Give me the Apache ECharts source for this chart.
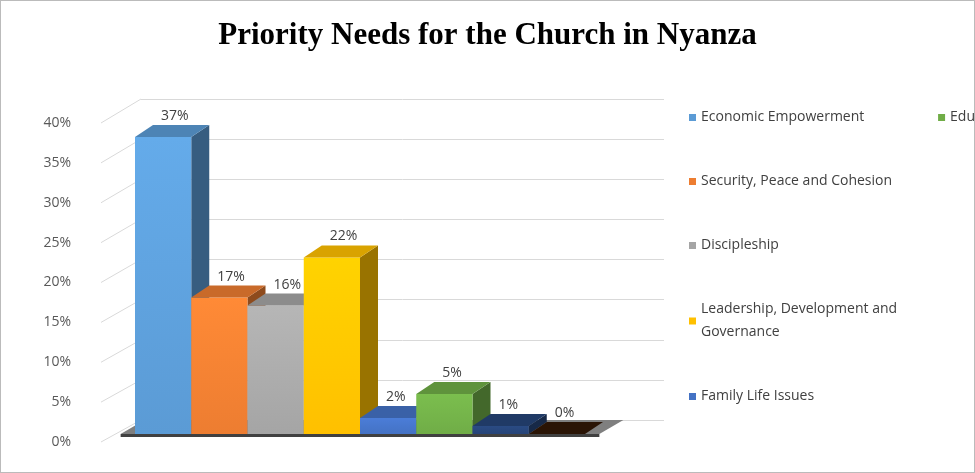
<!DOCTYPE html>
<html><head><meta charset="utf-8">
<script src="https://cdn.jsdelivr.net/npm/echarts@6/dist/echarts.min.js"></script>
<style>html,body{margin:0;background:#fff}#c{width:975px;height:473px;border:1px solid #bbb;box-sizing:border-box}</style>
</head><body><div id="c"></div>
<script>
var categories = ['Economic Empowerment','Security, Peace and Cohesion','Discipleship','Leadership, Development and Governance','Family Life Issues','Education','Other A','Other B'];
var values = [37,17,16,22,2,5,1,0];
var colors = ['#5b9bd5','#ed7d31','#a5a5a5','#ffc000','#4472c4','#70ad47','#264478','#9e480e'];
var legendNames = categories.slice(0,6);
var ticks = [0,5,10,15,20,25,30,35,40];

var DX = 18, DY = -12;
var chart = echarts.init(document.getElementById('c'));

function shade(c, k){
  var n = parseInt(c.slice(1),16), r=n>>16, g=(n>>8)&255, b=n&255;
  return 'rgb('+Math.round(r*k)+','+Math.round(g*k)+','+Math.round(b*k)+')';
}

function renderBar(params, api){
  var i = api.value(0), v = api.value(1);
  var base = api.coord([i,0]), top = api.coord([i,v]);
  var w = api.size([1,0])[0];
  var x0 = base[0]-w/2, x1 = base[0]+w/2, col = colors[i];
  var kids = [];
  kids.push({type:'polygon',shape:{points:[[x1,top[1]],[x1+DX,top[1]+DY],[x1+DX,base[1]+DY],[x1,base[1]]]},style:{fill:shade(col,0.6)}});
  if (v > 0) kids.push({type:'rect',shape:{x:x0,y:top[1],width:w,height:base[1]-top[1]},
    style:{fill:new echarts.graphic.LinearGradient(0,0,0,1,[{offset:0,color:shade(col,1.1)},{offset:1,color:col}])}});
  kids.push({type:'polygon',shape:{points:[[x0,top[1]],[x0+DX,top[1]+DY],[x1+DX,top[1]+DY],[x1,top[1]]]},style:{fill:v>0?shade(col,0.85):'#2a1405'}});
  kids.push({type:'text',style:{text:v+'%',x:base[0]-w/2+DX+8,y:top[1]+DY-2,textVerticalAlign:'bottom',fill:'#404040',font:'14px "Open Sans"'}});
  return {type:'group',children:kids};
}

var series = categories.map(function(name,i){
  return {type:'custom',name:name,xAxisIndex:0,yAxisIndex:0,itemStyle:{color:colors[i]},
    renderItem:renderBar,data:[[i,values[i]]],z:5};
});

chart.setOption({
  animation:false,
  title:{text:'Priority Needs for the Church in Nyanza',left:'center',top:14,
    textStyle:{fontFamily:'Liberation Serif',fontWeight:'bold',fontSize:31,color:'#000'}},
  legend:{orient:'vertical',left:683,top:100,itemWidth:7,itemHeight:7,itemGap:41,icon:'rect',
    data:legendNames,formatter:function(n){return n==='Leadership, Development and Governance'?'Leadership, Development and\nGovernance':n;},
    textStyle:{fontFamily:'Open Sans',fontSize:14,color:'#404040',lineHeight:23}},
  grid:[
    {left:134,right:389,top:112,bottom:38},
    {left:140,right:310,top:98,bottom:52},
    {left:100,right:860,top:122,bottom:30}
  ],
  xAxis:[
    {type:'category',gridIndex:0,data:categories,show:false},
    {type:'value',gridIndex:1,show:false},
    {type:'value',gridIndex:2,show:false}
  ],
  yAxis:[
    {type:'value',gridIndex:0,min:0,max:40,interval:5,show:false},
    {type:'value',gridIndex:1,min:0,max:40,interval:5,axisLine:{show:false},axisTick:{show:false},axisLabel:{show:false},splitLine:{lineStyle:{color:'#d9d9d9'}}},
    {type:'value',gridIndex:2,min:0,max:40,interval:5,axisLine:{show:false},axisTick:{show:false},splitLine:{show:false},
      axisLabel:{formatter:'{value}%',margin:30,fontFamily:'Open Sans',fontSize:14,color:'#595959'}}
  ],
  series:series
});

// left wall slanted gridlines and floor slab
var lines = [];
ticks.forEach(function(t){
  var a = chart.convertToPixel({gridIndex:2},[0,t]);
  var b = chart.convertToPixel({gridIndex:1},[0,t]);
  lines.push({type:'line',shape:{x1:a[0],y1:a[1],x2:b[0],y2:b[1]},style:{stroke:'#d9d9d9',lineWidth:1},z:0});
});
var f0 = chart.convertToPixel({xAxisIndex:0,yAxisIndex:0},[0,0]);
var f1 = chart.convertToPixel({xAxisIndex:0,yAxisIndex:0},[7,0]);
var hw = 28.5, fl = f0[0]-hw-14, fr = f1[0]+hw+14, fy = f0[1];
lines.push({type:'polygon',shape:{points:[[fl,fy],[fl+DX+6,fy+DY-2],[fr+DX+6,fy+DY-2],[fr,fy]]},style:{fill:'#7f7f7f'},z:1});
lines.push({type:'rect',shape:{x:fl,y:fy,width:fr-fl,height:3},style:{fill:'#404040'},z:1});
chart.setOption({graphic:lines});
</script></body></html>
